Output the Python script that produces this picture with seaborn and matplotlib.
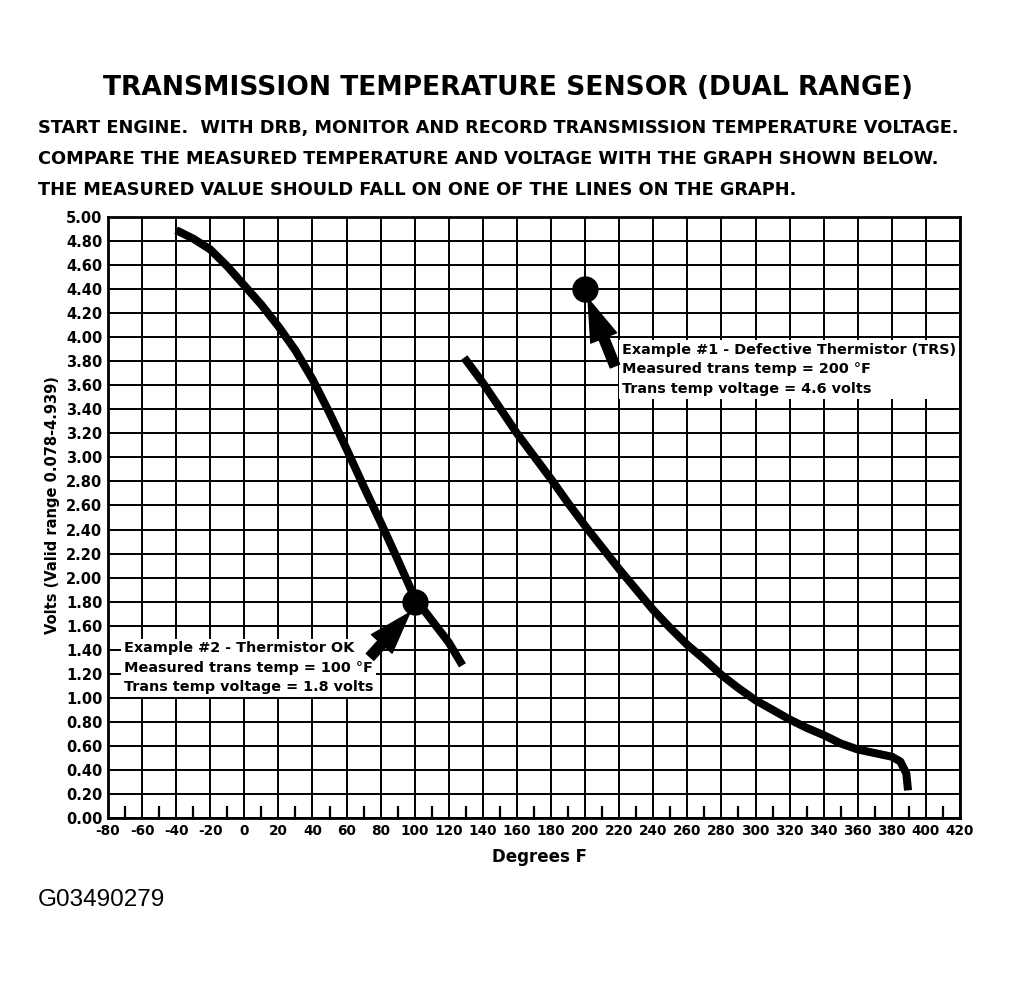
import matplotlib
matplotlib.use("Agg")
import matplotlib.pyplot as plt
from matplotlib.ticker import MultipleLocator, FormatStrFormatter
import seaborn as sns
import pandas as pd

# ---- data ----
low_range_temp = [-40, -30, -20, -10, 0, 10, 20, 30, 40, 50, 60, 70, 80, 90,
                  100, 120, 128]
low_range_volts = [4.89, 4.82, 4.73, 4.59, 4.43, 4.27, 4.09, 3.89, 3.65, 3.37,
                   3.07, 2.76, 2.46, 2.15, 1.83, 1.46, 1.27]

high_range_temp = [129, 140, 150, 160, 170, 180, 190, 200, 210, 220, 230, 240,
                   250, 260, 270, 280, 290, 300, 310, 320, 330, 340, 350, 360,
                   370, 380, 385, 388.5, 389.5]
high_range_volts = [3.83, 3.62, 3.41, 3.20, 3.01, 2.82, 2.62, 2.43, 2.25, 2.07,
                    1.90, 1.73, 1.58, 1.44, 1.32, 1.19, 1.08, 0.98, 0.90, 0.82,
                    0.75, 0.69, 0.62, 0.57, 0.54, 0.51, 0.47, 0.37, 0.23]

example_temp = [200, 100]
example_volts = [4.4, 1.8]

title = "TRANSMISSION TEMPERATURE SENSOR (DUAL RANGE)"
instructions = [
    "START ENGINE.  WITH DRB, MONITOR AND RECORD TRANSMISSION TEMPERATURE VOLTAGE.",
    "COMPARE THE MEASURED TEMPERATURE AND VOLTAGE WITH THE GRAPH SHOWN BELOW.",
    "THE MEASURED VALUE SHOULD FALL ON ONE OF THE LINES ON THE GRAPH.",
]
example1_text = ("Example #1 - Defective Thermistor (TRS)\n"
                 "Measured trans temp = 200 \u00b0F\n"
                 "Trans temp voltage = 4.6 volts")
example2_text = ("Example #2 - Thermistor OK\n"
                 "Measured trans temp = 100 \u00b0F\n"
                 "Trans temp voltage = 1.8 volts")
x_label = "Degrees F"
y_label = "Volts (Valid range 0.078-4.939)"
figure_id = "G03490279"

# ---- style ----
sns.set_style("white")
plt.rcParams["font.family"] = ["DejaVu Sans"]
plt.rcParams["axes.unicode_minus"] = False
plt.rcParams["text.color"] = "black"
plt.rcParams["axes.labelcolor"] = "black"
plt.rcParams["xtick.color"] = "black"
plt.rcParams["ytick.color"] = "black"

fig = plt.figure(figsize=(10.09, 9.84), dpi=100)
ax = fig.add_axes([108 / 1009, 1 - 818 / 984, (960 - 108) / 1009, (818 - 217) / 984])

df1 = pd.DataFrame({"temp": low_range_temp, "volts": low_range_volts})
df2 = pd.DataFrame({"temp": high_range_temp, "volts": high_range_volts})
dfe = pd.DataFrame({"temp": example_temp, "volts": example_volts})

sns.lineplot(data=df1, x="temp", y="volts", sort=False, color="black", lw=5.8,
             ax=ax, solid_capstyle="butt", solid_joinstyle="round", zorder=4)
sns.lineplot(data=df2, x="temp", y="volts", sort=False, color="black", lw=5.8,
             ax=ax, solid_capstyle="butt", solid_joinstyle="round", zorder=4)
sns.scatterplot(data=dfe, x="temp", y="volts", color="black", s=360, ax=ax,
                edgecolor="black", linewidth=0, zorder=5)

ax.set_xlim(-80, 420)
ax.set_ylim(0, 5)
ax.xaxis.set_major_locator(MultipleLocator(20))
ax.xaxis.set_minor_locator(MultipleLocator(10))
ax.yaxis.set_major_locator(MultipleLocator(0.2))
ax.yaxis.set_major_formatter(FormatStrFormatter("%.2f"))
ax.set_axisbelow(True)
ax.grid(which="major", color="black", lw=1.4)
ax.tick_params(which="major", length=0, pad=4, colors="black")
ax.tick_params(axis="y", labelsize=10.5)
ax.tick_params(axis="x", labelsize=9.8)
ax.tick_params(axis="x", which="minor", bottom=True, top=False, direction="in",
               length=9, width=1.6, color="black")
for lab in ax.get_xticklabels() + ax.get_yticklabels():
    lab.set_fontweight("bold")
for sp in ax.spines.values():
    sp.set_color("black")
    sp.set_linewidth(2)
    sp.set_zorder(7)

ax.set_xlabel("")
ax.set_ylabel("")
fig.text(540 / 1009, 1 - 857 / 984, x_label, ha="center", va="center",
         fontsize=12, fontweight="bold")
fig.text(53 / 1009, 1 - 505 / 984, y_label, ha="center", va="center",
         rotation=90, fontsize=10.5, fontweight="bold")

fig.text(508 / 1009, 1 - 88 / 984, title, ha="center", va="center",
         fontsize=19.1, fontweight="bold")
for i, line in enumerate(instructions):
    fig.text(38 / 1009, 1 - (128 + 31 * i) / 984, line, ha="left", va="center",
             fontsize=12.75, fontweight="bold")
fig.text(38 / 1009, 1 - 900 / 984, figure_id, ha="left", va="center",
         fontsize=17.5, family=["Liberation Sans", "DejaVu Sans"])

# annotation boxes
ax.text(221.5, 3.95, example1_text, ha="left", va="top", fontsize=10.4,
        fontweight="bold", linespacing=1.48,
        bbox=dict(facecolor="white", edgecolor="none", pad=2), zorder=3)
ax.text(-70.5, 1.47, example2_text, ha="left", va="top", fontsize=10.4,
        fontweight="bold", linespacing=1.48,
        bbox=dict(facecolor="white", edgecolor="none", pad=2), zorder=3)

arrow_style = "simple,head_length=1.6,head_width=1.05,tail_width=0.38"
ax.annotate("", xy=(201.7, 4.32), xytext=(217.5, 3.76),
            arrowprops=dict(arrowstyle=arrow_style, color="black",
                            mutation_scale=19, shrinkA=0, shrinkB=0), zorder=6)
ax.annotate("", xy=(97.2, 1.71), xytext=(73.8, 1.34),
            arrowprops=dict(arrowstyle=arrow_style, color="black",
                            mutation_scale=19, shrinkA=0, shrinkB=0), zorder=6)

fig.savefig("out.png", dpi=100, facecolor="white")
